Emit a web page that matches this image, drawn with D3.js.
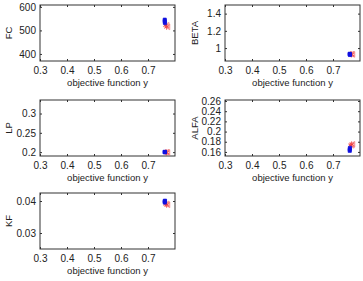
<!DOCTYPE html>
<html lang="en">
<head>
<meta charset="utf-8" />
<script src="https://cdn.jsdelivr.net/npm/d3@7/dist/d3.min.js"></script>
<style>
body { margin: 0; background: #fff; font-family: 'Liberation Sans', Arial, sans-serif; }
.tick text { font-size: 10px; fill: #222; }
.lbl { font-size: 9.5px; fill: #222; }
</style>
</head>
<body>
<div id="chart"></div>
<script>
// x values shared by all panels
var xTicks = [0.3, 0.4, 0.5, 0.6, 0.7];
var blueX = [0.762, 0.762, 0.762, 0.763];
var redX = [0.766, 0.769];

var names = ["FC", "BETA", "LP", "ALFA", "KF"];
var blueFC = [546, 541, 536, 531];
var redFC = [522, 515];
var blueBETA = [0.925, 0.93, 0.935, 0.92];
var redBETA = [0.93, 0.926];
var blueLP = [0.2, 0.2, 0.201, 0.2];
var redLP = [0.2, 0.199];
var blueALFA = [0.162, 0.164, 0.166, 0.168];
var redALFA = [0.173, 0.175];
var blueKF = [0.0395, 0.0398, 0.04, 0.0401];
var redKF = [0.0391, 0.0388];

var yDomains = [[370, 608], [0.85, 1.5], [0.19, 0.335], [0.152, 0.262], [0.025, 0.0425]];
var yTicks = [[400, 500, 600], [1, 1.2, 1.4], [0.2, 0.25, 0.3],
  [0.16, 0.18, 0.2, 0.22, 0.24, 0.26], [0.03, 0.04]];
var blues = [blueFC, blueBETA, blueLP, blueALFA, blueKF];
var reds = [redFC, redBETA, redLP, redALFA, redKF];

var width = 363, height = 281;
var boxW = 135, boxH = 56;
var lefts = [40, 225, 40, 225, 40];
var tops = [5, 5, 100, 100, 193];

var svg = d3.select('#chart').append('svg')
  .attr('width', width).attr('height', height);

var fmt = function(d) { return String(+d.toFixed(4)); };

names.forEach(function(name, i) {
  var g = svg.append('g')
    .attr('transform', 'translate(' + lefts[i] + ',' + tops[i] + ')');
  var x = d3.scaleLinear().domain([0.3, 0.8]).range([0, boxW]);
  var y = d3.scaleLinear().domain(yDomains[i]).range([boxH, 0]);

  g.append('g').attr('transform', 'translate(0,' + boxH + ')')
    .call(d3.axisBottom(x).tickValues(xTicks).tickFormat(fmt)
      .tickSizeInner(-2).tickSizeOuter(0).tickPadding(6));
  g.append('g')
    .call(d3.axisTop(x).tickValues(xTicks).tickFormat('')
      .tickSizeInner(-2).tickSizeOuter(0));
  g.append('g')
    .call(d3.axisLeft(y).tickValues(yTicks[i]).tickFormat(fmt)
      .tickSizeInner(-2).tickSizeOuter(0).tickPadding(4));
  g.append('g').attr('transform', 'translate(' + boxW + ',0)')
    .call(d3.axisRight(y).tickValues(yTicks[i]).tickFormat('')
      .tickSizeInner(-2).tickSizeOuter(0));
  g.selectAll('.domain').remove();
  g.selectAll('.tick line').attr('stroke', '#333');

  g.append('rect')
    .attr('width', boxW).attr('height', boxH)
    .attr('fill', 'none').attr('stroke', '#333').attr('stroke-width', 1);

  // red markers: asterisk + small triangle
  var rd = reds[i].map(function(v, k) { return [redX[k], v]; });
  g.selectAll('.red').data(rd).enter().append('path')
    .attr('transform', function(d) { return 'translate(' + x(d[0]) + ',' + y(d[1]) + ')'; })
    .attr('d', d3.symbol().type(d3.symbolAsterisk).size(24))
    .attr('fill', 'none').attr('stroke', '#ee2222').attr('stroke-width', 0.7);
  g.selectAll('.redt').data(rd).enter().append('path')
    .attr('transform', function(d) { return 'translate(' + (x(d[0]) + 1.5) + ',' + y(d[1]) + ') rotate(-90)'; })
    .attr('d', d3.symbol().type(d3.symbolTriangle).size(14))
    .attr('fill', 'none').attr('stroke', '#f06060').attr('stroke-width', 0.6);

  // blue markers
  var bd = blues[i].map(function(v, k) { return [blueX[k], v]; });
  g.selectAll('.blue').data(bd).enter().append('path')
    .attr('transform', function(d) { return 'translate(' + x(d[0]) + ',' + y(d[1]) + ')'; })
    .attr('d', d3.symbol().type(d3.symbolSquare).size(10))
    .attr('fill', '#1010e0').attr('stroke', '#1010e0').attr('stroke-width', 0.6);

  g.append('text').attr('class', 'lbl')
    .attr('x', boxW / 2).attr('y', boxH + 25)
    .attr('text-anchor', 'middle')
    .text('objective function y');
  g.append('text').attr('class', 'lbl')
    .attr('transform', 'translate(' + (i % 2 === 0 ? -28 : -27) + ',' + (boxH / 2) + ') rotate(-90)')
    .attr('text-anchor', 'middle')
    .text(name);
});
</script>
</body>
</html>
